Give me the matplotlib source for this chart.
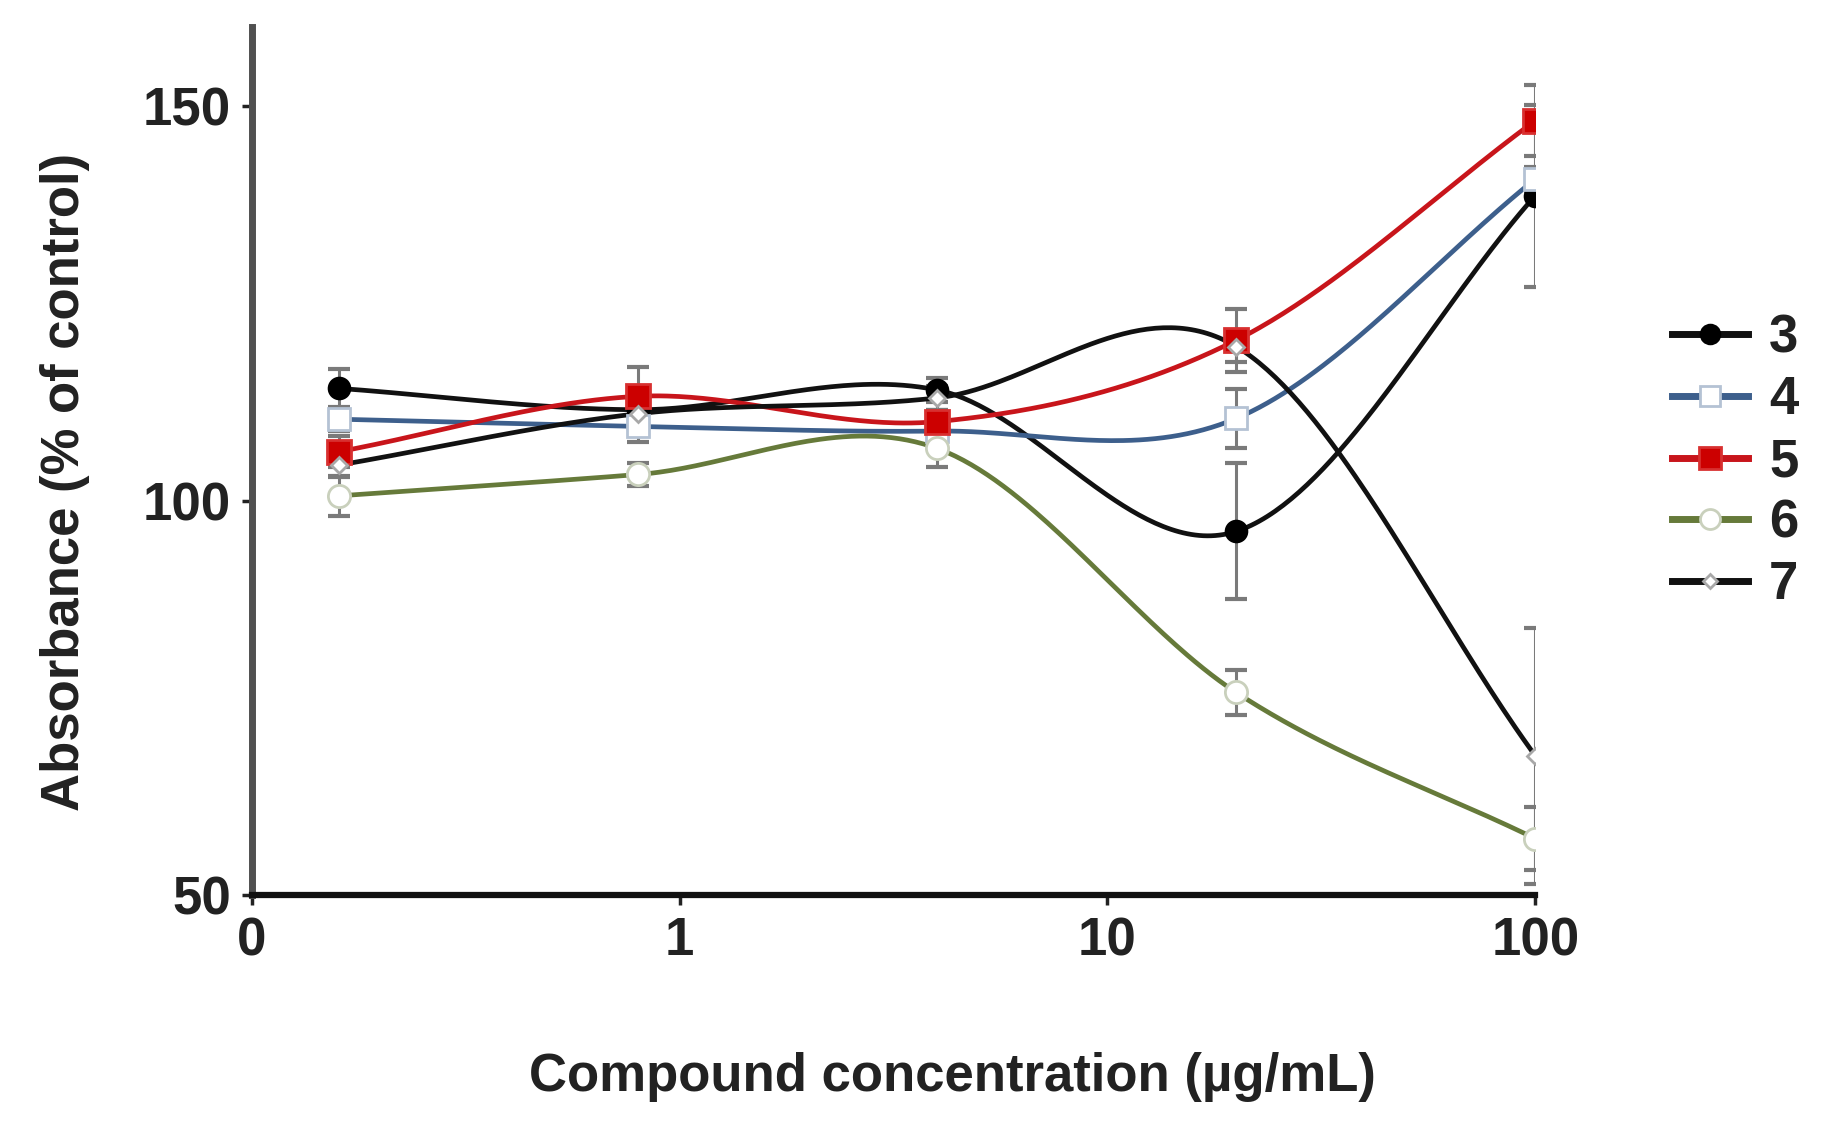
import numpy as np
import matplotlib
matplotlib.use("Agg")
import matplotlib.pyplot as plt
from matplotlib.lines import Line2D

# -----------------------------
# Data
# -----------------------------
conc = [0.16, 0.8, 4, 20, 100]
labels = ["3", "4", "5", "6", "7"]

y3 = [114.2, 111.5, 114.0, 96.1, 138.6]
y4 = [110.3, 109.4, 108.8, 110.4, 140.7]
y5 = [106.2, 113.2, 110.0, 120.3, 148.1]
y6 = [100.6, 103.3, 106.6, 75.7, 57.2]
y7 = [104.5, 111.0, 113.0, 119.5, 67.7]

e3 = [2.5, 1.5, 1.5, 8.6, 11.5]
e4 = [1.5, 2.0, 1.0, 3.7, 1.5]
e5 = [2.0, 3.7, 1.5, 4.0, 4.5]
e6 = [2.5, 1.5, 2.3, 2.8, 4.0]
e7 = [1.5, 1.5, 1.5, 2.0, 16.2]

series = [y3, y4, y5, y6, y7]
errors = [e3, e4, e5, e6, e7]

line_colors = ["#111111", "#3d5f8c", "#c8151b", "#667a3a", "#111111"]
markers = ["o", "s", "s", "o", "D"]
face_colors = ["#000000", "white", "#cc0000", "white", "white"]
edge_colors = ["#000000", "#b4c2d4", "#d83030", "#c9d0bc", "#a8a8a8"]
marker_sizes = [15, 16, 17, 16, 8]

FONT = "Liberation Sans"
FS = 38


def smooth_curve(x, y, n=300):
    """cubic Hermite through the points, tangents from neighbours"""
    x = np.asarray(x, float)
    y = np.asarray(y, float)
    k = len(x)
    m = np.zeros(k)
    m[0] = (y[1] - y[0]) / (x[1] - x[0])
    m[-1] = (y[-1] - y[-2]) / (x[-1] - x[-2])
    for i in range(1, k - 1):
        m[i] = (y[i + 1] - y[i - 1]) / (x[i + 1] - x[i - 1])
    xs = np.linspace(x[0], x[-1], n)
    idx = np.clip(np.searchsorted(x, xs) - 1, 0, k - 2)
    h = x[idx + 1] - x[idx]
    t = (xs - x[idx]) / h
    h00 = 2 * t ** 3 - 3 * t ** 2 + 1
    h10 = t ** 3 - 2 * t ** 2 + t
    h01 = -2 * t ** 3 + 3 * t ** 2
    h11 = t ** 3 - t ** 2
    ys = h00 * y[idx] + h10 * h * m[idx] + h01 * y[idx + 1] + h11 * h * m[idx + 1]
    return xs, ys


fig = plt.figure(figsize=(18.47, 11.21), dpi=100)
ax = fig.add_axes([0.1364, 0.2012, 0.6948, 0.775])

logx = np.log10(conc)
for yv, ev in zip(series, errors):
    ax.errorbar(conc, yv, yerr=ev, fmt="none", ecolor="#7a7a7a",
                elinewidth=2.2, capsize=8, capthick=3, zorder=2)

for i, yv in enumerate(series):
    xs, ys = smooth_curve(logx, yv)
    ax.plot(10 ** xs, ys, color=line_colors[i], lw=3.4, zorder=3)

for i, yv in enumerate(series):
    ax.plot(conc, yv, linestyle="none", marker=markers[i],
            markersize=marker_sizes[i], markerfacecolor=face_colors[i],
            markeredgecolor=edge_colors[i], markeredgewidth=2, zorder=4)

ax.set_xscale("log")
ax.set_xlim(0.1, 100)
ax.set_ylim(50, 160)
ax.set_xticks([0.1, 1, 10, 100])
ax.set_xticklabels(["0", "1", "10", "100"])
ax.xaxis.set_minor_locator(matplotlib.ticker.NullLocator())
ax.set_yticks([50, 100, 150])

for sp in ["top", "right"]:
    ax.spines[sp].set_visible(False)
ax.spines["left"].set_color("#505050")
ax.spines["left"].set_linewidth(5)
ax.spines["bottom"].set_color("#111111")
ax.spines["bottom"].set_linewidth(4.5)

ax.tick_params(axis="both", direction="out", length=7, width=2.5,
               color="#222222", pad=8)
for lab in ax.get_xticklabels() + ax.get_yticklabels():
    lab.set_fontfamily(FONT)
    lab.set_fontsize(FS)
    lab.set_fontweight("bold")
    lab.set_color("#222222")

ax.set_xlabel("Compound concentration (µg/mL)", fontfamily=FONT,
              fontsize=FS, fontweight="bold", color="#222222")
ax.xaxis.label.set_va("center")
ax.xaxis.set_label_coords(0.546, -0.209)
ax.set_ylabel("Absorbance (% of control)", fontfamily=FONT,
              fontsize=FS, fontweight="bold", color="#222222")
ax.yaxis.label.set_va("center")
ax.yaxis.set_label_coords(-0.1457, 0.476)

handles = []
for i in range(len(labels)):
    handles.append(Line2D([0], [0], color=line_colors[i], lw=5,
                          marker=markers[i], markersize=marker_sizes[i] * 0.9,
                          markerfacecolor=face_colors[i],
                          markeredgecolor=edge_colors[i], markeredgewidth=2))
leg = fig.legend(handles, labels, loc="upper left",
                 bbox_to_anchor=(0.905, 0.720), frameon=False,
                 borderpad=0, borderaxespad=0, handlelength=1.45,
                 handletextpad=0.4, labelspacing=0.22,
                 prop={"family": FONT, "size": FS, "weight": "bold"})
for t in leg.get_texts():
    t.set_color("#222222")

fig.savefig("out.png", dpi=100)
